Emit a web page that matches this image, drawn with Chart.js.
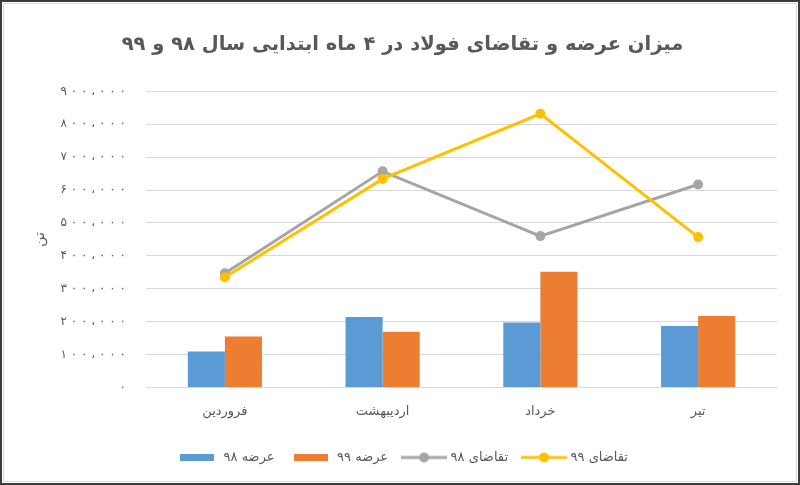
<!DOCTYPE html>
<html>
<head>
<meta charset="utf-8">
<script src="https://cdn.jsdelivr.net/npm/chart.js@4.4.1/dist/chart.umd.min.js"></script>
<style>
  html, body { margin: 0; padding: 0; background: #fff; }
  #wrap { position: relative; width: 800px; height: 485px; }
  #frame { position: absolute; left: 0; top: 0; width: 800px; height: 485px; box-sizing: border-box;
           border: 2px solid #3c3c3c; pointer-events: none; }
  #inner { position: absolute; left: 3px; top: 3px; width: 794px; height: 479px; box-sizing: border-box;
           border: 1px solid #d9d9d9; pointer-events: none; }
</style>
</head>
<body>
<div id="wrap">
  <canvas id="c" width="800" height="485"></canvas>
  <div id="frame"></div>
  <div id="inner"></div>
</div>
<script>
const titleText = 'میزان عرضه و تقاضای فولاد در ۴ ماه ابتدایی سال ۹۸ و ۹۹';
const yTitle = 'تن';
const categories = ['فروردین', 'اردیبهشت', 'خرداد', 'تیر'];
const seriesNames = ['عرضه ۹۸', 'عرضه ۹۹', 'تقاضای ۹۸', 'تقاضای ۹۹'];
const supply98 = [1090000, 2140000, 1970000, 1870000];
const supply99 = [1550000, 1690000, 3520000, 2170000];
const demand98 = [3470000, 6570000, 4600000, 6170000];
const demand99 = [3350000, 6340000, 8320000, 4570000];
const tickLabels = ['۰', '۱۰۰،۰۰۰', '۲۰۰،۰۰۰', '۳۰۰،۰۰۰', '۴۰۰،۰۰۰', '۵۰۰،۰۰۰', '۶۰۰،۰۰۰', '۷۰۰،۰۰۰', '۸۰۰،۰۰۰', '۹۰۰،۰۰۰'];

const BLUE = '#5B9BD5', ORANGE = '#ED7D31', GRAY = '#A5A5A5', YELLOW = '#FFC000';
const TXT = '#595959', GRID = '#D9D9D9';
const FONT = "'DejaVu Sans', sans-serif";

function boxIcon(color) {
  const c = document.createElement('canvas');
  c.width = 34; c.height = 7;
  const x = c.getContext('2d');
  x.fillStyle = color; x.fillRect(0, 0, 34, 7);
  return c;
}
function lineIcon(color) {
  const c = document.createElement('canvas');
  c.width = 46; c.height = 12;
  const x = c.getContext('2d');
  x.strokeStyle = color; x.lineWidth = 3;
  x.beginPath(); x.moveTo(0, 6); x.lineTo(46, 6); x.stroke();
  x.fillStyle = color; x.beginPath(); x.arc(23, 6, 5, 0, Math.PI * 2); x.fill();
  return c;
}
// widen the tick labels the way the reference spaces its digits
const spaced = s => s.split('').join(' ');

const ctx = document.getElementById('c').getContext('2d');
new Chart(ctx, {
  data: {
    labels: categories,
    datasets: [
      { type: 'bar', label: seriesNames[0], data: supply98, backgroundColor: BLUE, order: 2,
        categoryPercentage: 0.47, barPercentage: 1.0, icon: boxIcon(BLUE) },
      { type: 'bar', label: seriesNames[1], data: supply99, backgroundColor: ORANGE, order: 2,
        categoryPercentage: 0.47, barPercentage: 1.0, icon: boxIcon(ORANGE) },
      { type: 'line', label: seriesNames[2], data: demand98, borderColor: GRAY, backgroundColor: GRAY,
        borderWidth: 3, pointRadius: 5, pointHoverRadius: 5, pointBackgroundColor: GRAY, pointBorderWidth: 0,
        tension: 0, order: 1, icon: lineIcon(GRAY) },
      { type: 'line', label: seriesNames[3], data: demand99, borderColor: YELLOW, backgroundColor: YELLOW,
        borderWidth: 3, pointRadius: 5, pointHoverRadius: 5, pointBackgroundColor: YELLOW, pointBorderWidth: 0,
        tension: 0, order: 0, icon: lineIcon(YELLOW) }
    ]
  },
  options: {
    responsive: false,
    animation: false,
    layout: { padding: { left: 28, right: 23, top: 0, bottom: 11 } },
    plugins: {
      tooltip: { enabled: false },
      title: {
        display: true, text: titleText, color: TXT,
        font: { family: FONT, size: 19.5, weight: 'bold' },
        padding: { top: 33, bottom: 35 }
      },
      legend: {
        position: 'bottom',
        labels: {
          color: TXT,
          font: { family: FONT, size: 13 },
          usePointStyle: true,
          pointStyleWidth: 40,
          boxHeight: 12,
          padding: 16,
          generateLabels(chart) {
            return chart.data.datasets.map((ds, i) => ({
              text: ds.label, datasetIndex: i, pointStyle: ds.icon,
              fillStyle: ds.backgroundColor, strokeStyle: ds.backgroundColor,
              lineWidth: 0, hidden: false, fontColor: TXT
            }));
          }
        }
      }
    },
    scales: {
      x: {
        grid: { display: false, drawTicks: false },
        border: { color: GRID, width: 1 },
        ticks: { color: TXT, font: { family: FONT, size: 13 }, padding: 16 }
      },
      y: {
        min: 0, max: 9000000,
        grid: { color: GRID, lineWidth: 1, drawTicks: false },
        border: { display: false },
        ticks: {
          stepSize: 1000000, color: TXT, font: { family: FONT, size: 12 }, padding: 20,
          callback: (v, i) => spaced(tickLabels[i])
        },
        title: { display: true, text: yTitle, color: TXT, font: { family: FONT, size: 14 }, padding: { top: 4, bottom: 0 } },
        afterFit(scale) { scale.width = 118; }
      }
    }
  }
});
</script>
</body>
</html>
